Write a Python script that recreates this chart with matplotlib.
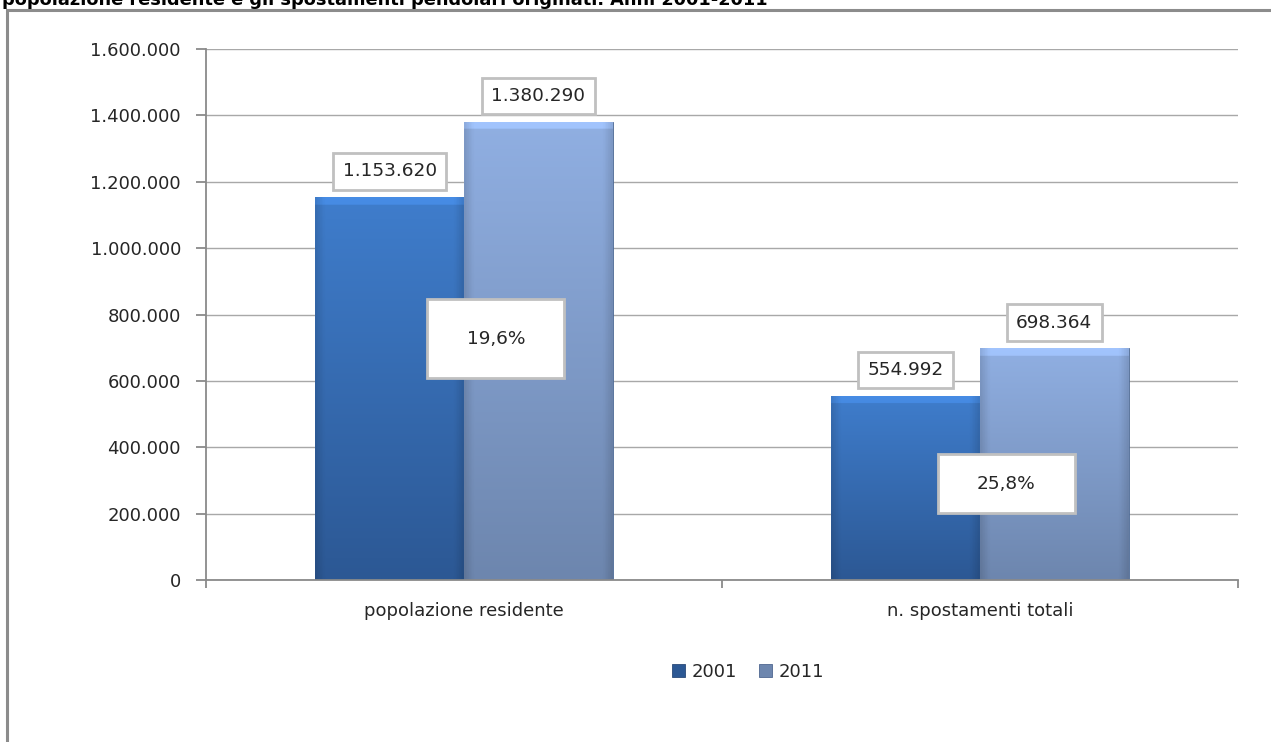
import numpy as np
import matplotlib
matplotlib.use('Agg')
import matplotlib.pyplot as plt
from matplotlib.patches import Rectangle, Patch
from matplotlib.colors import LinearSegmentedColormap
from matplotlib.ticker import FuncFormatter

W, H = 1271, 742

title = 'popolazione residente e gli spostamenti pendolari originati. Anni 2001-2011'
categories = ['popolazione residente', 'n. spostamenti totali']
years = ['2001', '2011']
values_2001 = [1153620, 554992]
values_2011 = [1380290, 698364]
yticks = [0, 200000, 400000, 600000, 800000, 1000000, 1200000, 1400000, 1600000]

# label boxes for the % change, center (category offset, value) and size in px
pct_centers = [(0.062, 727000), (0.051, 290000)]
pct_sizes = [(137, 79), (137, 59)]

dark_cols = ['#3f7dcc', '#2c5894']
light_cols = ['#90afe2', '#6d86ae']
grid_col = '#a8a8a8'
axis_col = '#8a8a8a'

plt.rcParams['font.family'] = ['DejaVu Sans']

def dotted(v, pos=None):
    return f'{v:,.0f}'.replace(',', '.')

fig = plt.figure(figsize=(W / 100, H / 100), dpi=100)

# outer frame of the original sheet
fig.patches.append(Rectangle((7 / W, -0.1), 1.2, 1 - 10 / H + 0.1, transform=fig.transFigure,
                             fill=False, ec='#8c8c8c', lw=2.2))
# the title is cut at the top edge, as in the source screenshot
fig.text(2 / W, 1 - 5 / H, title, fontsize=12.8, fontweight='bold', va='baseline', ha='left')

ax_l, ax_r, ax_b, ax_t = 206, 1238, 580, 49
ax = fig.add_axes([ax_l / W, 1 - ax_b / H, (ax_r - ax_l) / W, (ax_b - ax_t) / H])
ax.set_facecolor('none')

x = np.arange(len(categories))
bw = 0.288
bars1 = ax.bar(x - bw / 2, values_2001, bw, color=dark_cols[0], zorder=2)
bars2 = ax.bar(x + bw / 2, values_2011, bw, color=light_cols[0], zorder=2)

def grad_fill(bar, cols):
    cmap = LinearSegmentedColormap.from_list('g', [cols[1], cols[0]])
    x0, w, h = bar.get_x(), bar.get_width(), bar.get_height()
    ny, nx = 300, 60
    vert = np.linspace(0, 1, ny)[:, None] * np.ones((1, nx))
    xs = np.linspace(0, 1, nx)
    edge = 1 - 0.12 * (np.clip(1 - xs / 0.06, 0, 1) + np.clip(1 - (1 - xs) / 0.06, 0, 1))
    img = cmap(vert)
    img[..., :3] *= edge[None, :, None]
    # light bevel along the top edge (about 8 px)
    bevel_rows = max(1, int(ny * 8 / (h * 531 / 1600000)))
    img[-bevel_rows:, :, :3] = np.clip(img[-bevel_rows:, :, :3] * 1.12, 0, 1)
    im = ax.imshow(img, extent=[x0, x0 + w, 0, h], origin='lower', aspect='auto', zorder=2.5)
    im.set_clip_path(bar)
    bar.set_edgecolor('#4a6690')
    bar.set_linewidth(0.6)

for b in bars1:
    grad_fill(b, dark_cols)
for b in bars2:
    grad_fill(b, light_cols)

ax.set_xlim(-0.5, len(categories) - 0.5)
ax.set_ylim(0, 1600000)

# value labels in boxes
for bars, vals in ((bars1, values_2001), (bars2, values_2011)):
    for b, v in zip(bars, vals):
        ax.annotate(dotted(v), (b.get_x() + b.get_width() / 2, v), xytext=(0, 12),
                    textcoords='offset points', ha='center', va='bottom', fontsize=13.3,
                    color='#262626', zorder=5,
                    bbox=dict(boxstyle='square,pad=0.5', fc='white', ec='#c0c0c0', lw=2))

# percentage change boxes
px_x = (ax_r - ax_l) / len(categories)
px_y = (ax_b - ax_t) / 1600000
for i, (c, s) in enumerate(zip(pct_centers, pct_sizes)):
    pct = (values_2011[i] / values_2001[i] - 1) * 100
    cx, cy = i + c[0], c[1]
    wd, ht = s[0] / px_x, s[1] / px_y
    ax.add_patch(Rectangle((cx - wd / 2, cy - ht / 2), wd, ht, fc='white', ec='#c0c0c0',
                           lw=2, zorder=5))
    ax.text(cx, cy, f'{pct:.1f}%'.replace('.', ','), ha='center', va='center',
            fontsize=13.3, color='#262626', zorder=6)

ax.set_yticks(yticks)
ax.yaxis.set_major_formatter(FuncFormatter(dotted))
ax.grid(axis='y', color=grid_col, lw=1.0, zorder=0)
ax.set_axisbelow(True)

ax.set_xticks([-0.5, 0.5, 1.5])
ax.set_xticklabels([])
ax.set_xticks(x, minor=True)
ax.set_xticklabels(categories, minor=True)
ax.tick_params(axis='x', which='major', length=6, width=1.3, color=axis_col)
ax.tick_params(axis='x', which='minor', length=0, pad=16, labelsize=13, labelcolor='#262626')
ax.tick_params(axis='y', length=7, width=1.3, color=axis_col, pad=11, labelsize=13,
               labelcolor='#262626')

for s in ('top', 'right'):
    ax.spines[s].set_visible(False)
for s in ('left', 'bottom'):
    ax.spines[s].set_color(axis_col)
    ax.spines[s].set_linewidth(1.3)

handles = [Patch(fc=dark_cols[1], ec='#2a4a78', lw=0.6),
           Patch(fc=light_cols[1], ec='#4f6690', lw=0.6)]
fig.legend(handles, years, loc='center', bbox_to_anchor=(748 / W, 1 - 672 / H), ncol=2,
           frameon=False, fontsize=13, handlelength=0.75, handleheight=0.75,
           handletextpad=0.35, columnspacing=1.2, labelcolor='#262626')

fig.savefig('out.png', dpi=100)
